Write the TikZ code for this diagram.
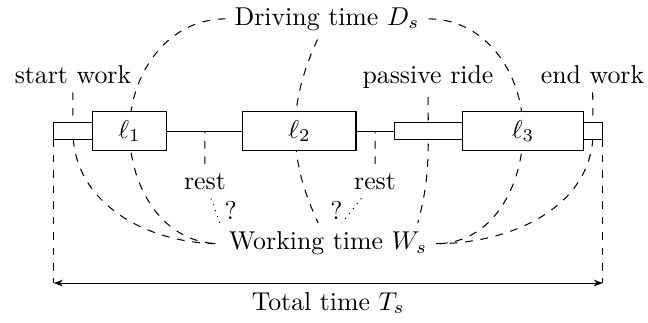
\documentclass[tikz,border=0pt]{standalone}
\usepackage{amsmath, amssymb}
\usepackage{tikz}
\usetikzlibrary{arrows.meta, positioning, backgrounds}

\begin{document}
\begin{tikzpicture}[
    trip/.style={draw,fill=white,minimum height=0.52cm,inner sep=0pt,outer sep=0pt},
    link/.style={draw,fill=white,minimum height=0.22cm,inner sep=0pt,outer sep=0pt}]
    \useasboundingbox (0,0) rectangle (8.826,4.386);
    % the duty along the time line
    \node[link,minimum width=0.52cm] (S) at (0.994,2.601) {};
    \node[trip,minimum width=1.02cm,right=0pt of S] (L1) {$\ell_1$};
    \node[trip,minimum width=1.54cm,right=1.035cm of L1] (L2) {$\ell_2$};
    \node[link,minimum width=0.93cm,right=0.52cm of L2] (P) {};
    \node[trip,minimum width=1.65cm,right=0pt of P] (L3) {$\ell_3$};
    \node[link,minimum width=0.26cm,right=0pt of L3] (E) {};
    \draw (L1) -- coordinate (M1) (L2);
    \draw (L2) -- coordinate (M2) (P);
    % labels
    \node[anchor=base] (D) at (4.454,4.045) {Driving time $D_s$};
    \node[anchor=base] (W) at (4.467,0.981) {Working time $W_s$};
    \node[anchor=base] (SW) at (0.994,3.255) {start work};
    \node[anchor=base] (PR) at (5.829,3.255) {passive ride};
    \node[anchor=base] (EW) at (8.070,3.255) {end work};
    \node[anchor=base] (R1) at (2.792,1.811) {rest};
    \node[anchor=base] (R2) at (5.108,1.811) {rest};
    \begin{scope}[on background layer]
        \draw[dashed] (D.west) to[out=180,in=90] (L1.center) to[out=-90,in=180] (W.west);
        \draw[dashed] (D) to[bend right=25] (W);
        \draw[dashed] (D.east) to[out=0,in=90] (L3.center) to[out=-90,in=0] (W.east);
        \draw[dashed] (SW) -- (S.center) to[out=-90,in=180] (W.west);
        \draw[dashed] (PR) -- (P.center) to[out=-90,in=75] (W.13);
        \draw[dashed] (EW) -- (E.center) to[out=-90,in=0] (W.east);
    \end{scope}
    \draw[dashed] (R1) -- (M1);
    \draw[dashed] (R2) -- (M2);
    \draw[dotted] (R1) -- node[right]{?} (W.north west);
    \draw[dotted] (R2) -- node[left]{?} (W.56);
    % total time
    \coordinate (TL) at (S.south west |- 0,0.531);
    \coordinate (TR) at (E.south east |- 0,0.531);
    \draw[dashed] (S.south west) -- (TL);
    \draw[dashed] (E.south east) -- (TR);
    \draw[{Stealth[length=3.5pt]}-{Stealth[length=3.5pt]}] (TL) -- node[below]{Total time $T_s$} (TR);
\end{tikzpicture}
\end{document}
